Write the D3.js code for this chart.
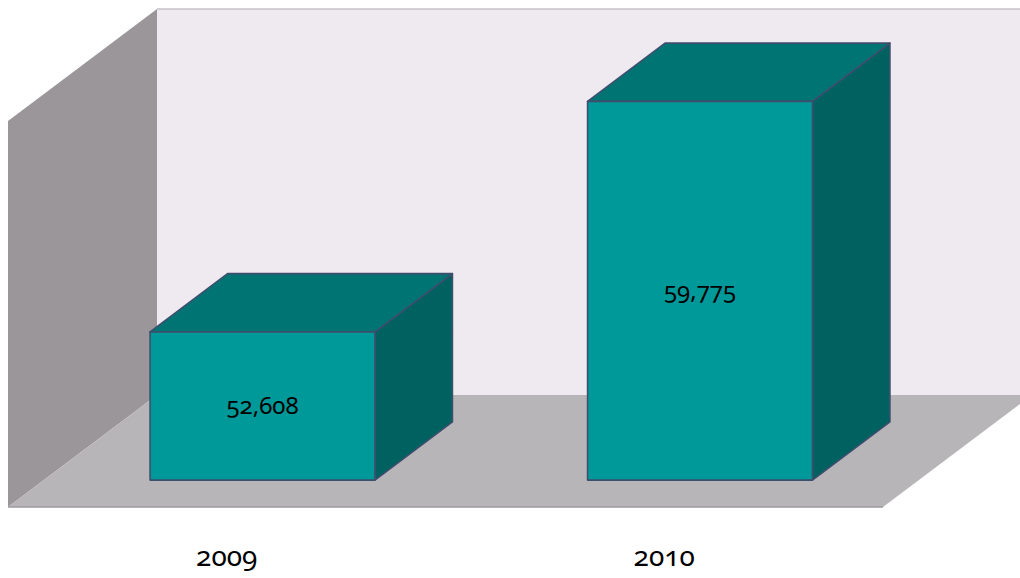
<!DOCTYPE html>
<html>
<head>
<meta charset="utf-8">
<script src="https://cdn.jsdelivr.net/npm/d3@7"></script>
<style>
  html, body { margin: 0; padding: 0; background: #ffffff; }
  svg { display: block; }
  text { font-family: "Noto Sans", "Open Sans", sans-serif; font-variant-numeric: oldstyle-nums; font-feature-settings: "onum"; }
</style>
</head>
<body>
<svg id="chart" width="1020" height="578"></svg>
<script>
// Chart data
const categories = ["2009", "2010"];
const values = [52608, 59775];
const valueDomain = [48000, 60000];

// Oblique 3D projection: offset applied when moving from the front plane to the back wall
const depthVec = [149, -112];
const barDepth = [0.24, 0.76];

const svg = d3.select("#chart");

const x = d3.scaleBand()
  .domain(categories)
  .range([8, 883])
  .paddingInner(0.486)
  .paddingOuter(0.243);

const y = d3.scaleLinear()
  .domain(valueDomain)
  .range([507, 121]);

const proj = (px, py, f) => [px + f * depthVec[0], py + f * depthVec[1]];
const poly = pts => "M" + pts.map(p => p.join(",")).join("L") + "Z";

const [xl, xr] = x.range();
const yb = y(valueDomain[0]);
const yt = y(valueDomain[1]);

// Back wall
svg.append("path")
  .attr("d", poly([proj(xl, yt, 1), proj(xr, yt, 1), proj(xr, yb, 1), proj(xl, yb, 1)]))
  .attr("fill", "#efeaf0");
svg.append("line")
  .attr("x1", proj(xl, yt, 1)[0]).attr("y1", proj(xl, yt, 1)[1])
  .attr("x2", proj(xr, yt, 1)[0]).attr("y2", proj(xr, yt, 1)[1])
  .attr("stroke", "#c4c2c6").attr("stroke-width", 1.5);

// Side wall
svg.append("path")
  .attr("d", poly([proj(xl, yt, 0), proj(xl, yt, 1), proj(xl, yb, 1), proj(xl, yb, 0)]))
  .attr("fill", "#9a969a");

// Floor
svg.append("path")
  .attr("d", poly([proj(xl, yb, 0), proj(xl, yb, 1), proj(xr, yb, 1), proj(xr, yb, 0)]))
  .attr("fill", "#b8b5b9");
svg.append("line")
  .attr("x1", xl).attr("y1", yb).attr("x2", xr).attr("y2", yb)
  .attr("stroke", "#9c9a9e").attr("stroke-width", 1.5);

// Bars
const bars = svg.append("g").selectAll("g")
  .data(categories.map((c, i) => ({ cat: c, value: values[i] })))
  .join("g");

const edge = { stroke: "#3e4f6e", width: 1.6 };

bars.each(function (d) {
  const g = d3.select(this);
  const x0 = x(d.cat), x1 = x0 + x.bandwidth();
  const top = y(d.value);
  const [f0, f1] = barDepth;

  g.append("path")
    .attr("d", poly([proj(x1, top, f0), proj(x1, top, f1), proj(x1, yb, f1), proj(x1, yb, f0)]))
    .attr("fill", "#006161")
    .attr("stroke", edge.stroke).attr("stroke-width", edge.width).attr("stroke-linejoin", "round");

  g.append("path")
    .attr("d", poly([proj(x0, top, f0), proj(x1, top, f0), proj(x1, top, f1), proj(x0, top, f1)]))
    .attr("fill", "#007373")
    .attr("stroke", edge.stroke).attr("stroke-width", edge.width).attr("stroke-linejoin", "round");

  g.append("path")
    .attr("d", poly([proj(x0, top, f0), proj(x1, top, f0), proj(x1, yb, f0), proj(x0, yb, f0)]))
    .attr("fill", "#00999a")
    .attr("stroke", edge.stroke).attr("stroke-width", edge.width).attr("stroke-linejoin", "round");

  const c = proj((x0 + x1) / 2, (top + yb) / 2, f0);
  g.append("text")
    .attr("x", c[0])
    .attr("y", c[1] + 8)
    .attr("text-anchor", "middle")
    .attr("font-size", 24)
    .attr("fill", "#000")
    .text(d3.format(",")(d.value));
});

// Category labels
svg.append("g").selectAll("text")
  .data(categories)
  .join("text")
  .attr("x", d => x(d) + x.bandwidth() / 2)
  .attr("y", 566)
  .attr("text-anchor", "middle")
  .attr("font-size", 28)
  .attr("fill", "#000")
  .text(d => d);
</script>
</body>
</html>
